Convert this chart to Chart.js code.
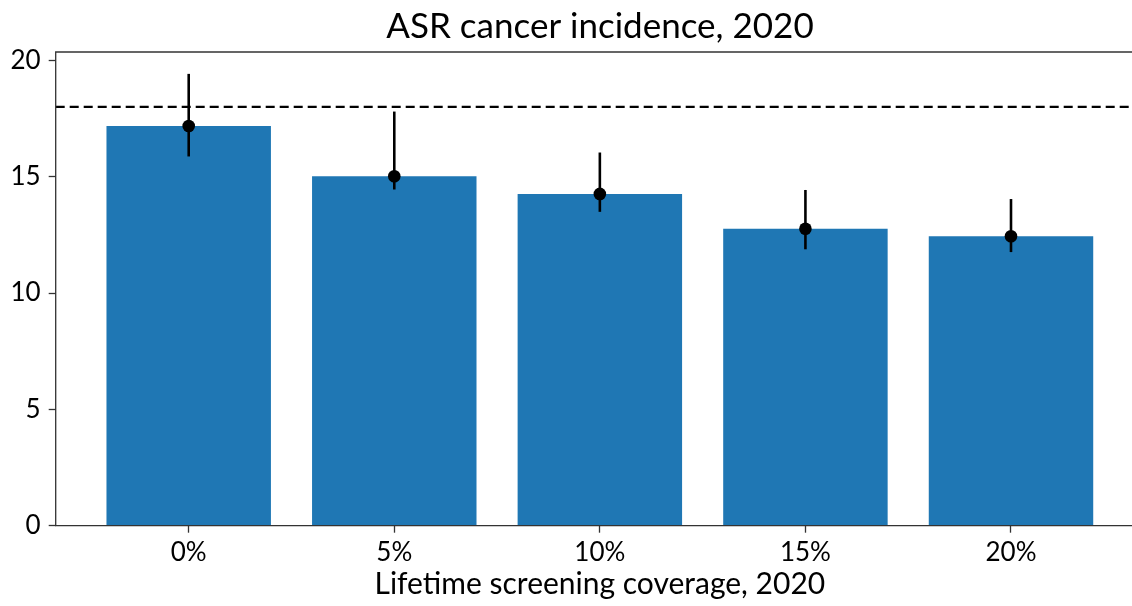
<!DOCTYPE html>
<html>
<head>
<meta charset="utf-8">
<script src="https://cdn.jsdelivr.net/npm/chart.js@4.4.0/dist/chart.umd.min.js"></script>
<style>
  html, body { margin: 0; padding: 0; background: #fff; overflow: hidden; }
  #wrap { width: 1200px; height: 606px; }
  canvas { display: block; }
</style>
</head>
<body>
<div id="wrap"><canvas id="asrchart" width="1200" height="606"></canvas></div>
<script>
// values
const coverage = ['0%', '5%', '10%', '15%', '20%'];
const asrIncidence = [17.18, 15.02, 14.26, 12.76, 12.44];
const ciLow = [15.87, 14.45, 13.49, 11.88, 11.76];
const ciHigh = [19.42, 17.80, 16.04, 14.43, 14.04];
const baseline = 18.0;
const yTicks = [0, 5, 10, 15, 20];

Chart.defaults.font.family = 'Lato';
Chart.defaults.color = '#000';

// dashed reference line + error whiskers, drawn right after the bars
const errorBars = {
  id: 'errorBars',
  afterDatasetDraw(chart, args) {
    if (args.meta.type !== 'bar') return;
    const { ctx, chartArea, scales: { x, y } } = chart;
    ctx.save();
    ctx.strokeStyle = '#000';
    ctx.lineWidth = 2.3;
    ctx.setLineDash([9, 5]);
    const yb = y.getPixelForValue(baseline);
    ctx.beginPath();
    ctx.moveTo(chartArea.left, yb);
    ctx.lineTo(chartArea.right, yb);
    ctx.stroke();
    ctx.setLineDash([]);
    ctx.lineWidth = 2.6;
    coverage.forEach((c, i) => {
      const px = x.getPixelForValue(i);
      ctx.beginPath();
      ctx.moveTo(px, y.getPixelForValue(ciLow[i]));
      ctx.lineTo(px, y.getPixelForValue(ciHigh[i]));
      ctx.stroke();
    });
    ctx.restore();
  }
};

// axes spines: left, top, bottom (the right one falls outside the view)
const frame = {
  id: 'frame',
  afterDatasetsDraw(chart) {
    const { ctx, chartArea: a } = chart;
    ctx.save();
    ctx.strokeStyle = '#333';
    ctx.lineWidth = 1.3;
    ctx.beginPath();
    ctx.moveTo(a.right, a.top);
    ctx.lineTo(a.left, a.top);
    ctx.lineTo(a.left, a.bottom);
    ctx.lineTo(a.right, a.bottom);
    ctx.stroke();
    ctx.restore();
  }
};

new Chart(document.getElementById('asrchart'), {
  type: 'bar',
  data: {
    datasets: [{
      type: 'bar',
      data: coverage.map((c, i) => ({ x: i, y: asrIncidence[i] })),
      backgroundColor: '#1f77b4',
      borderWidth: 0,
      categoryPercentage: 1,
      barPercentage: 0.8,
      order: 2
    }, {
      type: 'scatter',
      data: coverage.map((c, i) => ({ x: i, y: asrIncidence[i] })),
      backgroundColor: '#000',
      borderWidth: 0,
      pointRadius: 6.3,
      order: 1
    }]
  },
  options: {
    responsive: false,
    devicePixelRatio: 1,
    animation: false,
    layout: { padding: 0 },
    plugins: {
      legend: { display: false },
      tooltip: { enabled: false },
      title: {
        display: true,
        text: 'ASR cancer incidence, 2020',
        font: { size: 35, weight: 'normal' },
        color: '#000',
        padding: { top: 5.5, bottom: 4.5 }
      }
    },
    scales: {
      x: {
        type: 'linear',
        offset: false,
        min: -0.647,
        max: 4.647,
        afterBuildTicks: s => { s.ticks = coverage.map((c, i) => ({ value: i })); },
        ticks: {
          callback: v => coverage[v],
          font: { size: 26 },
          color: '#000',
          padding: 4,
          autoSkip: false,
          maxRotation: 0
        },
        grid: { offset: false, drawOnChartArea: false, tickLength: 7, tickColor: '#333', tickWidth: 1.3 },
        border: { display: false },
        title: {
          display: true,
          text: 'Lifetime screening coverage, 2020',
          font: { size: 30 },
          color: '#000',
          padding: { top: 0, bottom: 4 }
        },
        afterFit: s => { s.height = 80.3; }
      },
      y: {
        min: 0,
        max: 20.36,
        afterBuildTicks: s => { s.ticks = yTicks.map(v => ({ value: v })); },
        ticks: { font: { size: 26 }, color: '#000', padding: 8 },
        grid: { drawOnChartArea: false, tickLength: 7, tickColor: '#333', tickWidth: 1.3 },
        border: { display: false },
        afterFit: s => { s.width = 55.7; }
      },
      // empty right margin, mirrors the y axis so the title centres over the plot
      yRight: {
        position: 'right',
        display: true,
        ticks: { display: false },
        grid: { display: false },
        border: { display: false },
        afterFit: s => { s.width = 56; }
      }
    }
  },
  plugins: [errorBars, frame]
});
</script>
</body>
</html>
